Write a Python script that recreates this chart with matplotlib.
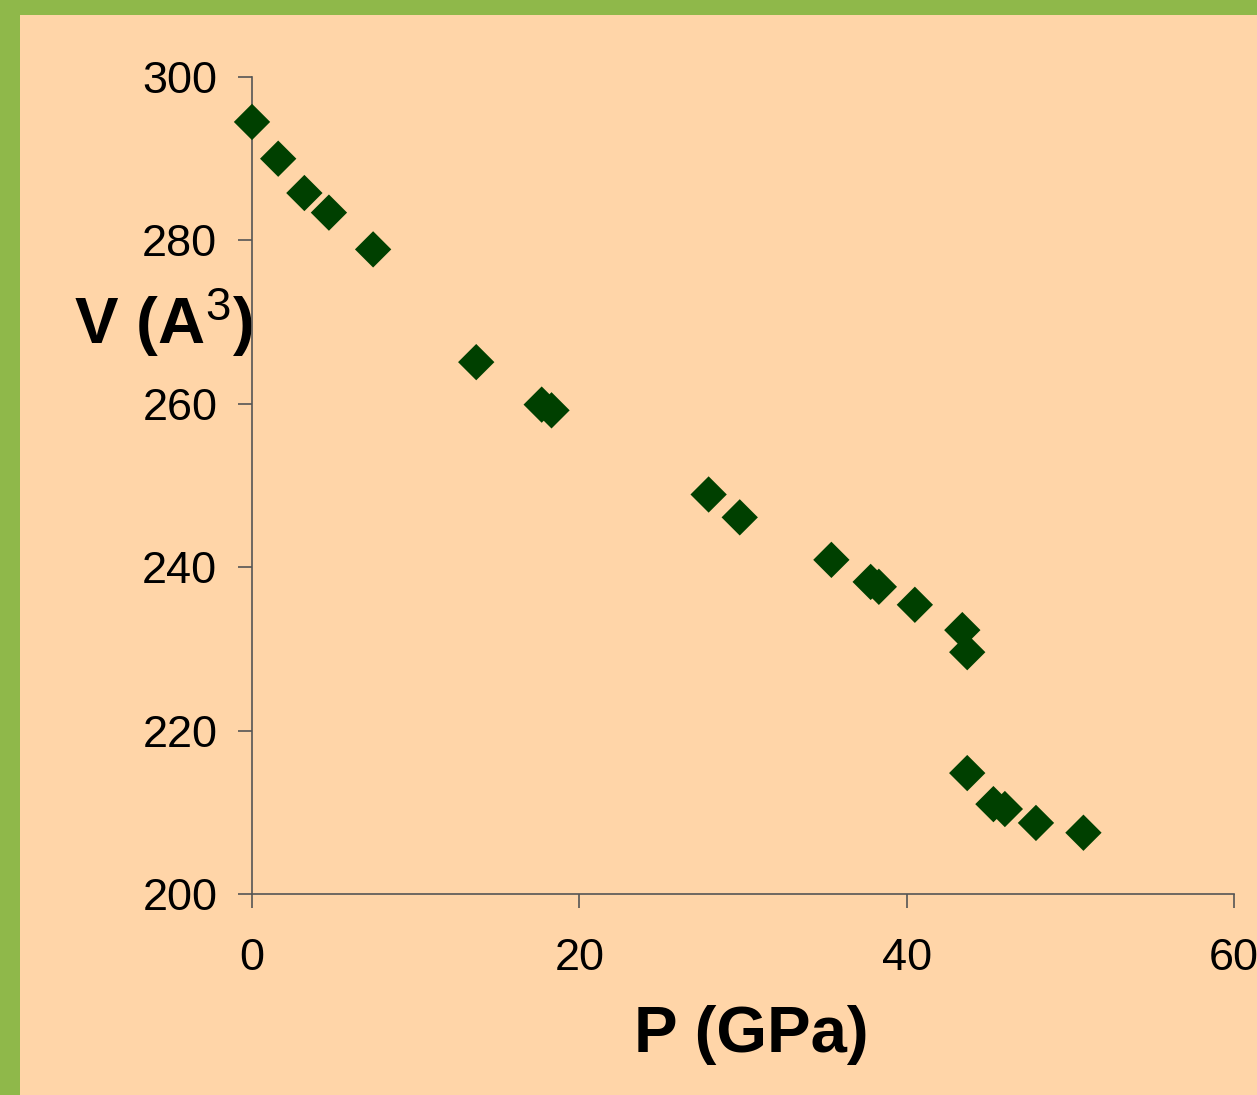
import matplotlib
matplotlib.use("Agg")
import matplotlib.pyplot as plt
from matplotlib.patches import Rectangle

# Data
pressure_gpa = [0.0, 1.6, 3.2, 4.7, 7.4, 13.7, 17.7, 18.3, 27.9, 29.8, 35.4,
                37.8, 38.3, 40.5, 43.4, 43.7, 43.7, 45.3, 46.0, 47.9, 50.8]
volume_a3 = [294.5, 290.0, 285.8, 283.4, 278.9, 265.1, 259.9, 259.2, 248.9, 246.1, 240.9,
             238.2, 237.6, 235.4, 232.3, 229.6, 214.8, 211.0, 210.4, 208.7, 207.5]
x_ticks = [0, 20, 40, 60]
y_ticks = [200, 220, 240, 260, 280, 300]

plt.rcParams['font.family'] = ['Liberation Sans', 'DejaVu Sans']
plt.rcParams['mathtext.fontset'] = 'custom'
plt.rcParams['mathtext.rm'] = 'Liberation Sans'
plt.rcParams['mathtext.it'] = 'Liberation Sans'
plt.rcParams['mathtext.bf'] = 'Liberation Sans:bold'

W, H = 1257, 1095
fig = plt.figure(figsize=(W / 100, H / 100), dpi=100)
fig.patch.set_facecolor('#8FB84A')
fig.patches.append(Rectangle((20 / W, 0), 1 - 20 / W, 1 - 15 / H,
                             transform=fig.transFigure, facecolor='#FFD5A8',
                             edgecolor='none', zorder=-10))

ax = fig.add_axes([252 / W, 1 - 894 / H, (1234 - 252) / W, (894 - 77) / H])
ax.set_facecolor('none')
ax.set_zorder(1)

ax.scatter(pressure_gpa, volume_a3, marker='D', s=18.5 ** 2, color='#004000',
           edgecolors='none', zorder=3, clip_on=False)

ax.set_xlim(0, 60)
ax.set_ylim(200, 300)
ax.set_xticks(x_ticks)
ax.set_yticks(y_ticks)

for s in ['top', 'right']:
    ax.spines[s].set_visible(False)
for s in ['left', 'bottom']:
    ax.spines[s].set_color('#555555')
    ax.spines[s].set_linewidth(1.2)

ax.tick_params(axis='both', direction='out', length=10, width=1.2, color='#555555',
               labelsize=32.5, labelcolor='black')
ax.tick_params(axis='y', pad=15)
ax.tick_params(axis='x', pad=22)

ax.set_xlabel('P (GPa)', fontsize=47, fontweight='bold', va='center')
ax.xaxis.set_label_coords(0.508, -0.172)
ax.set_ylabel(r'V (A$^{3}$)', fontsize=47, fontweight='bold', rotation=0,
              ha='center', va='center')
ax.yaxis.set_label_coords(-0.09, 0.70)

fig.savefig('out.png', dpi=100, facecolor=fig.get_facecolor())
